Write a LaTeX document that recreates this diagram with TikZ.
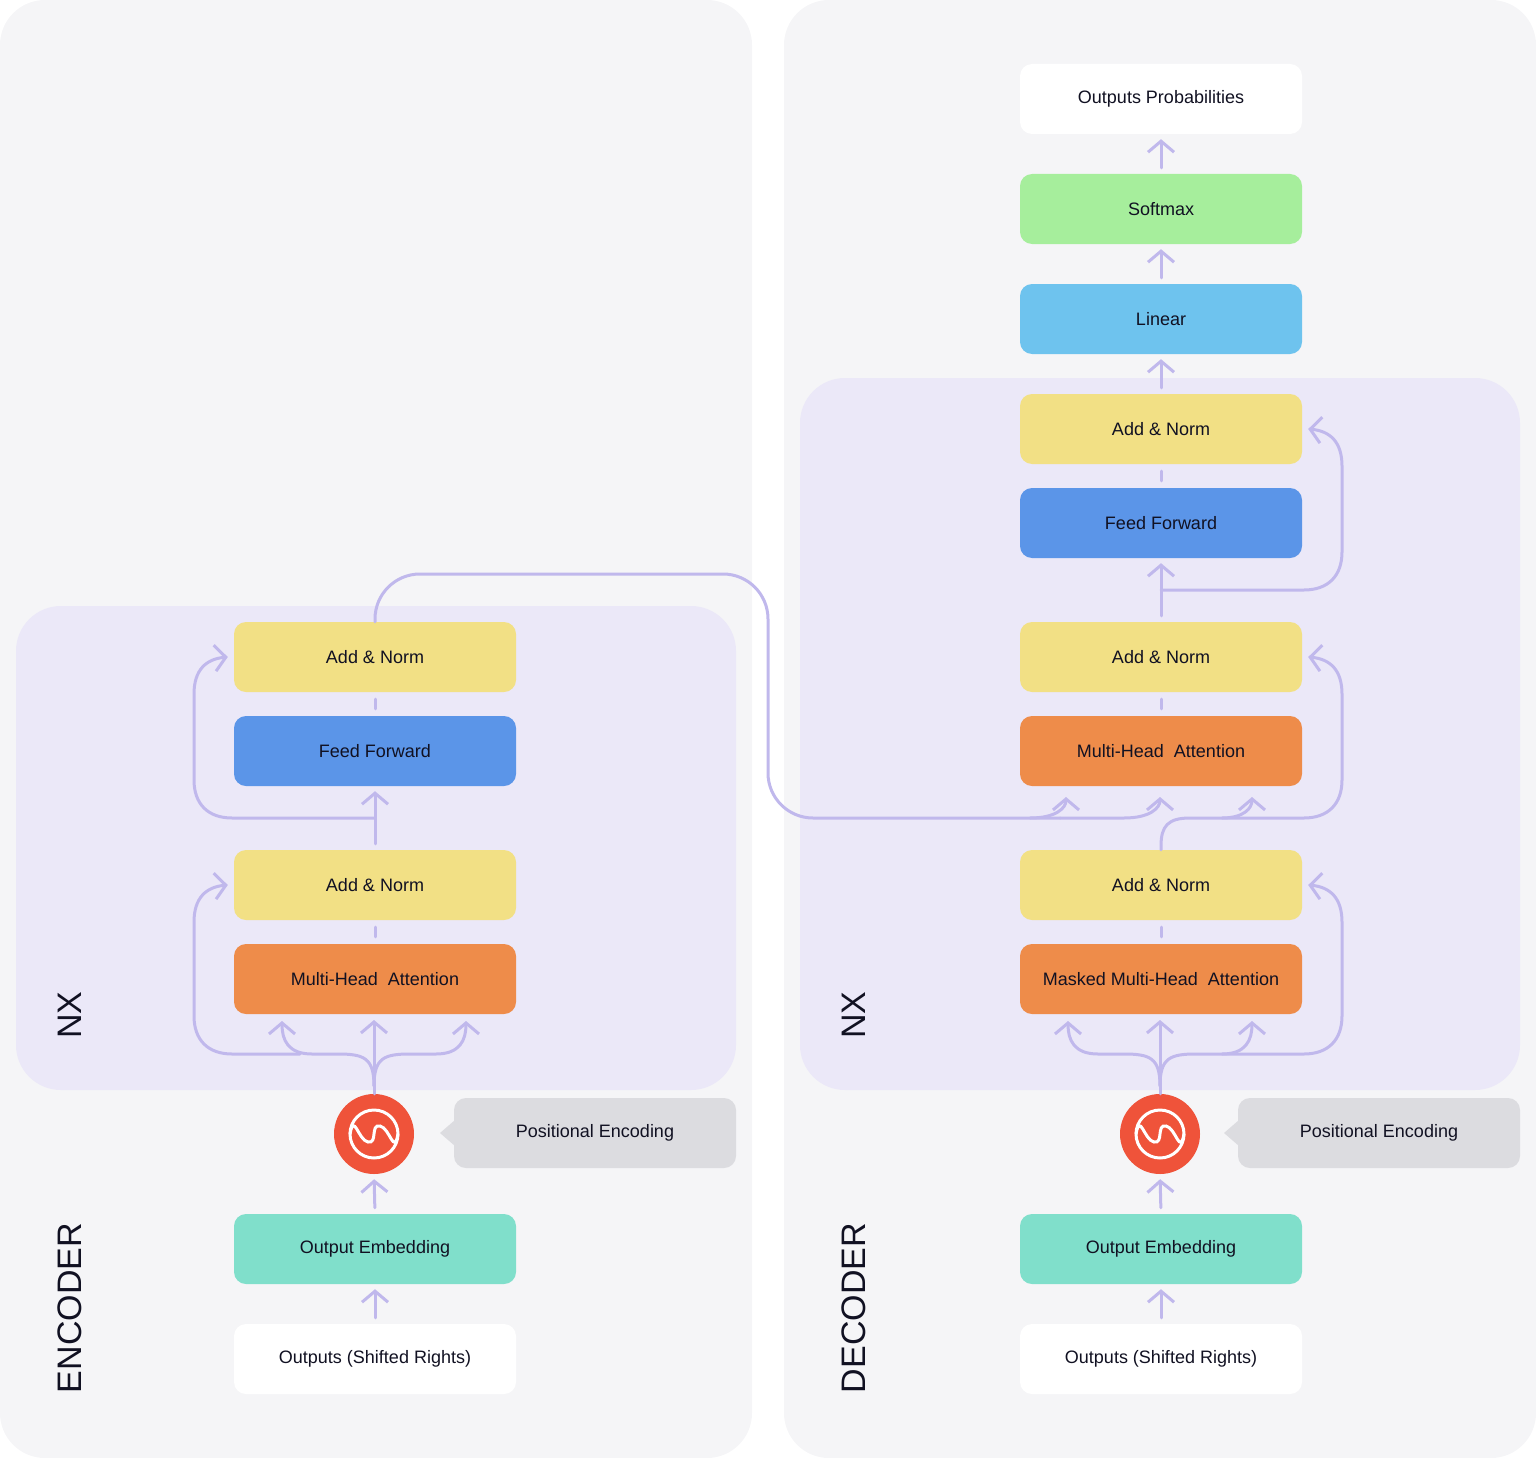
\documentclass[tikz,border=0pt]{standalone}
\usepackage{fontspec}
\setmainfont{Liberation Sans}
\usetikzlibrary{arrows.meta}
\definecolor{panelbg}{HTML}{F5F5F7}
\definecolor{nxbg}{HTML}{EBE8F8}
\definecolor{lav}{HTML}{C0B8EC}
\definecolor{ink}{HTML}{111122}
\definecolor{cyel}{HTML}{F2E085}
\definecolor{cblue}{HTML}{5B95E8}
\definecolor{corange}{HTML}{EE8C4A}
\definecolor{cgreen}{HTML}{A6EE9C}
\definecolor{clin}{HTML}{6EC3EE}
\definecolor{cteal}{HTML}{80DFCB}
\definecolor{cred}{HTML}{EF533A}
\definecolor{cgrey}{HTML}{DCDCE0}
\tikzset{
  blk/.style={rounded corners=12pt, minimum width=282pt, minimum height=70pt,
    inner sep=0pt, text=ink, font=\fontsize{18}{21}\selectfont},
  link/.style={lav, line width=3pt, line cap=round},
  arr/.style={link, -{Straight Barb[length=11pt,width=26pt,line width=3pt]}},
  side/.style={text=ink, font=\fontsize{34}{36}\selectfont, rotate=90}
}
\begin{document}
\begin{tikzpicture}[x=1pt,y=-1pt]
\useasboundingbox (0,0) rectangle (1536,1458);
% panels
\fill[panelbg, rounded corners=45pt] (0,0) rectangle (752,1458);
\fill[panelbg, rounded corners=45pt] (784,0) rectangle (1536,1458);
\fill[nxbg, rounded corners=45pt] (16,606) rectangle (736,1090);
\fill[nxbg, rounded corners=45pt] (800,378) rectangle (1520,1090);
\node[side] (enclbl) at (70,1308) {ENCODER};
\node[side] (declbl) at (854,1308) {DECODER};
\node[side] (encnx) at (70,1015) {NX};
\node[side] (decnx) at (854,1015) {NX};

% encoder blocks
\node[blk, fill=cyel] (ean2) at (375,657) {Add \& Norm};
\node[blk, fill=cblue] (eff) at (375,751) {Feed Forward};
\node[blk, fill=cyel] (ean1) at (375,885) {Add \& Norm};
\node[blk, fill=corange] (emha) at (375,979) {Multi-Head\ \ Attention};
\node[blk, fill=cteal] (eemb) at (375,1249) {Output Embedding};
\node[blk, fill=white] (ein) at (375,1359) {Outputs (Shifted Rights)};
\node[circle, fill=cred, minimum size=80pt] (epe) at (374,1134) {};
\node[blk, fill=cgrey] (epel) at (595,1133) {Positional Encoding};
\fill[cgrey] (455,1120) -- (440,1133) -- (455,1146) -- cycle;

% decoder blocks
\node[blk, fill=white] (dprob) at (1161,99) {Outputs Probabilities};
\node[blk, fill=cgreen] (dsoft) at (1161,209) {Softmax};
\node[blk, fill=clin] (dlin) at (1161,319) {Linear};
\node[blk, fill=cyel] (dan3) at (1161,429) {Add \& Norm};
\node[blk, fill=cblue] (dff) at (1161,523) {Feed Forward};
\node[blk, fill=cyel] (dan2) at (1161,657) {Add \& Norm};
\node[blk, fill=corange] (dmha) at (1161,751) {Multi-Head\ \ Attention};
\node[blk, fill=cyel] (dan1) at (1161,885) {Add \& Norm};
\node[blk, fill=corange] (dmmha) at (1161,979) {Masked Multi-Head\ \ Attention};
\node[blk, fill=cteal] (demb) at (1161,1249) {Output Embedding};
\node[blk, fill=white] (din) at (1161,1359) {Outputs (Shifted Rights)};
\node[circle, fill=cred, minimum size=80pt] (dpe) at (1160,1134) {};
\node[blk, fill=cgrey] (dpel) at (1379,1133) {Positional Encoding};
\fill[cgrey] (1239,1120) -- (1224,1133) -- (1239,1146) -- cycle;

% wave symbols
\foreach \p in {epe,dpe}{
  \draw[white, line width=3pt] (\p) circle (24pt);
  \draw[white, line width=3pt] ([xshift=-24pt]\p.center)
    .. controls +(4,-22) and +(-10,-2) .. ([xshift=-6pt,yshift=-8pt]\p.center)
    .. controls +(10,2) and +(-10,-2) .. ([xshift=6pt,yshift=8pt]\p.center)
    .. controls +(10,2) and +(-4,22) .. ([xshift=24pt]\p.center);
}

% straight links
\foreach \a/\b in {ein/eemb, eemb/epe, ean1/eff, din/demb, demb/dpe,
                   dan2/dff, dan3/dlin, dlin/dsoft, dsoft/dprob}
  \draw[arr, shorten <=6pt, shorten >=5pt] (\a.north) -- (\b.south);
\foreach \a/\b in {emha/ean1, eff/ean2, dmmha/dan1, dmha/dan2, dff/dan3}
  \draw[link, shorten <=7pt, shorten >=7pt] (\a.north) -- (\b.south);

% fans
\foreach \c/\s in {374/epe, 1160/dpe}{
  \draw[arr] (\s.north) -- (\c,1020);
  \draw[arr] (\c,1086) .. controls (\c,1058) and (\c-10,1054) .. (\c-36,1054)
    -- (\c-62,1054) .. controls (\c-86,1054) and (\c-92,1040) .. (\c-92,1021);
  \draw[arr] (\c,1086) .. controls (\c,1058) and (\c+10,1054) .. (\c+36,1054)
    -- (\c+62,1054) .. controls (\c+86,1054) and (\c+92,1040) .. (\c+92,1021);
}
% encoder residuals
\draw[arr] (300,1054) -- (232,1054) .. controls (208,1054) and (194,1040) .. (194,1016)
  -- (194,922) .. controls (194,898) and (206,887) .. ([xshift=-6pt]ean1.west);
\draw[arr] (375,818) -- (232,818) .. controls (208,818) and (194,804) .. (194,780)
  -- (194,694) .. controls (194,670) and (206,659) .. ([xshift=-6pt]ean2.west);
% decoder residuals
\draw[arr] (1222,1054) -- (1304,1054) .. controls (1328,1054) and (1342,1040) .. (1342,1016)
  -- (1342,922) .. controls (1342,898) and (1330,887) .. ([xshift=6pt]dan1.east);
\draw[arr] (1161,590) -- (1304,590) .. controls (1328,590) and (1342,576) .. (1342,552)
  -- (1342,466) .. controls (1342,442) and (1330,431) .. ([xshift=6pt]dan3.east);
% decoder add & norm to attention
\draw[arr] (dan1.north) -- (1161,846) .. controls (1161,826) and (1168,818) .. (1190,818)
  -- (1222,818) .. controls (1244,818) and (1252,808) .. (1252,797);
\draw[arr] (1222,818) -- (1304,818) .. controls (1328,818) and (1342,804) .. (1342,780)
  -- (1342,694) .. controls (1342,670) and (1330,659) .. ([xshift=6pt]dan2.east);
% encoder output to decoder
\draw[link, rounded corners=45pt] (ean2.north) -- (375,574) -- (768,574) -- (768,818) -- (1060,818);
\draw[arr] (1030,818) .. controls (1056,818) and (1066,808) .. (1066,797);
\draw[arr] (1060,818) -- (1124,818) .. controls (1150,818) and (1160,808) .. (1160,797);
\end{tikzpicture}
\end{document}
